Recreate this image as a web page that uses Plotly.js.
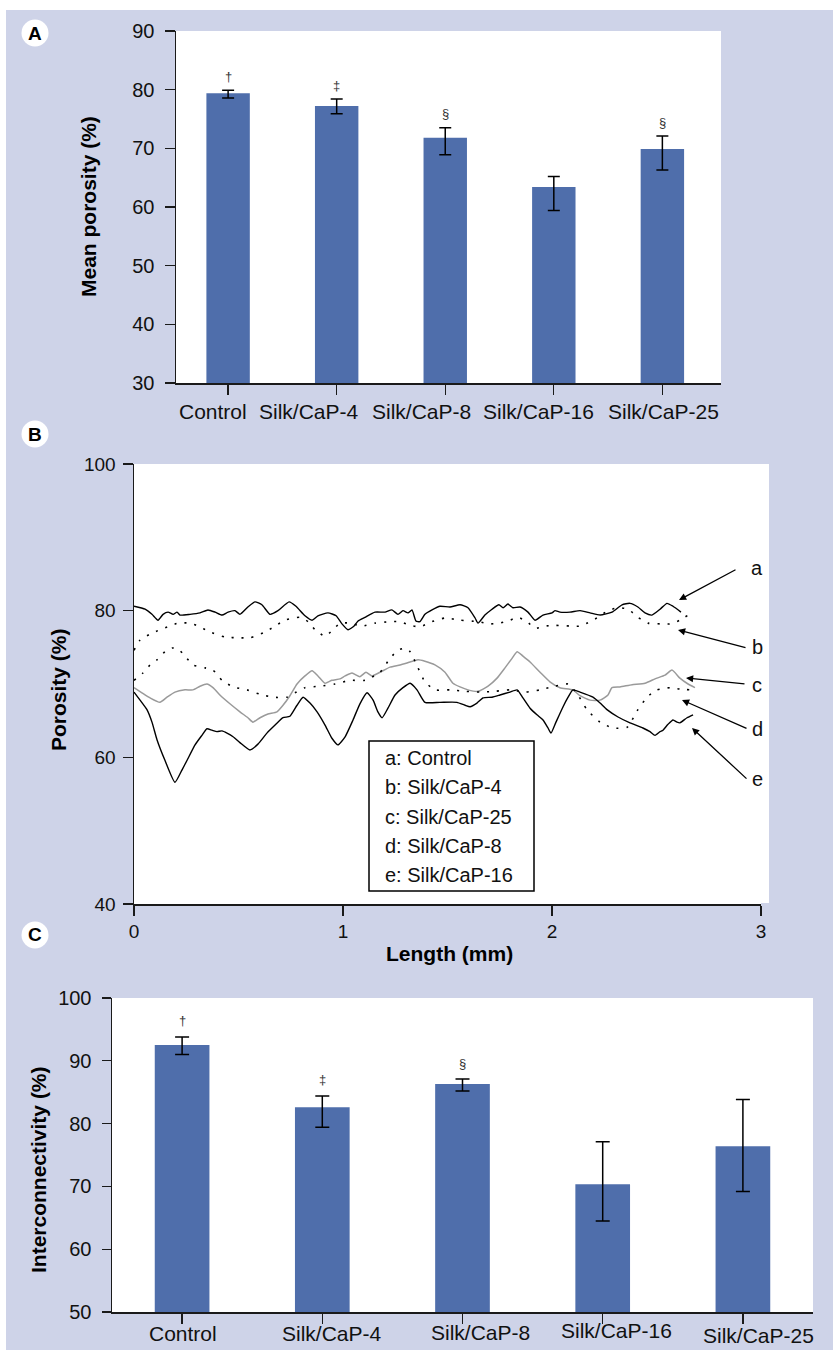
<!DOCTYPE html>
<html><head><meta charset="utf-8">
<script src="https://cdn.plot.ly/plotly-3.0.1.min.js"></script>
<style>html,body{margin:0;padding:0;background:#fff}#chart{width:833px;height:1350px}</style>
</head><body><div id="chart"></div>
<script>
// ---------- DATA ----------
const categories = ['Control', 'Silk/CaP-4', 'Silk/CaP-8', 'Silk/CaP-16', 'Silk/CaP-25'];

// Panel A: mean porosity (%)
const porosityMean      = [79.4, 77.2, 71.8, 63.4, 69.9];
const porosityErrPlus   = [0.5, 1.2, 1.7, 1.8, 2.2];
const porosityErrMinus  = [0.8, 1.3, 2.9, 4.0, 3.6];
const porositySig       = ['†', '‡', '§', '', '§'];

// Panel C: interconnectivity (%)
const interMean      = [92.5, 82.6, 86.3, 70.35, 76.4];
const interErrPlus   = [1.3, 1.8, 0.8, 6.75, 7.45];
const interErrMinus  = [1.5, 3.2, 1.1, 5.85, 7.2];
const interSig       = ['†', '‡', '§', '', ''];

// Panel B: porosity profiles along length (mm)
const seriesLetters = ['a', 'b', 'c', 'd', 'e'];
const seriesNames   = ['Control', 'Silk/CaP-4', 'Silk/CaP-25', 'Silk/CaP-8', 'Silk/CaP-16'];

const lengthA = [0,0.053,0.086,0.115,0.139,0.163,0.187,0.206,0.22,0.268,0.316,0.354,0.388,0.421,0.45,0.483,0.507,0.545,0.579,0.612,0.651,0.689,0.742,0.775,0.818,0.852,0.88,0.928,0.967,0.995,1.024,1.053,1.072,1.105,1.153,1.201,1.234,1.263,1.287,1.311,1.33,1.349,1.368,1.392,1.426,1.464,1.512,1.56,1.598,1.632,1.646,1.679,1.713,1.746,1.766,1.789,1.813,1.847,1.885,1.919,1.957,2.0,2.014,2.038,2.086,2.134,2.182,2.23,2.287,2.335,2.373,2.411,2.445,2.478,2.517,2.55,2.579,2.617];
const porosityA = [80.6,80.2,79.5,78.7,79.5,79.8,79.5,79.8,79.4,79.5,79.7,80.1,79.8,79.4,79.8,80.0,79.5,80.5,81.2,80.8,79.5,80.0,81.2,80.6,79.3,78.7,79.3,79.7,79.3,78.2,77.4,77.9,78.6,79.1,79.8,79.8,80.1,79.5,80.0,79.7,80.1,78.6,78.5,79.5,80.1,80.6,80.5,80.8,80.4,79.0,78.3,79.4,80.2,80.8,80.4,80.9,80.4,80.5,79.8,78.7,79.4,79.7,80.0,79.8,79.8,80.0,79.7,79.4,79.8,80.8,81.0,80.5,79.7,79.4,80.2,81.0,80.6,79.8];

const lengthB = [0,0.029,0.077,0.124,0.172,0.211,0.268,0.316,0.354,0.435,0.507,0.555,0.627,0.675,0.722,0.794,0.833,0.866,0.914,0.952,0.986,1.033,1.091,1.153,1.225,1.273,1.321,1.368,1.426,1.488,1.56,1.646,1.703,1.751,1.799,1.837,1.88,1.919,1.967,2.014,2.086,2.134,2.182,2.22,2.268,2.316,2.364,2.411,2.459,2.517,2.565,2.612,2.651];
const porosityB = [74.6,76.0,76.8,77.4,77.9,78.3,78.3,77.8,77.2,76.4,76.3,76.3,77.1,77.9,78.7,79.1,78.5,77.4,76.5,77.4,78.3,78.3,77.9,78.3,78.5,78.5,78.0,77.8,78.5,79.0,78.7,78.5,78.2,78.3,78.7,79.1,78.5,77.6,77.9,78.0,77.9,77.9,78.5,79.1,80.0,80.4,80.2,79.1,78.3,78.2,78.2,78.7,79.4];

const lengthC = [0,0.038,0.077,0.124,0.158,0.196,0.244,0.282,0.316,0.349,0.378,0.411,0.459,0.507,0.545,0.569,0.603,0.641,0.684,0.713,0.746,0.78,0.818,0.852,0.88,0.914,0.947,0.986,1.01,1.043,1.081,1.11,1.139,1.177,1.225,1.273,1.321,1.359,1.392,1.44,1.488,1.526,1.56,1.598,1.646,1.694,1.737,1.775,1.809,1.833,1.861,1.895,1.943,1.99,2.038,2.1,2.134,2.182,2.23,2.268,2.287,2.325,2.383,2.445,2.493,2.541,2.574,2.612,2.651,2.684];
const porosityC = [69.5,68.8,68.1,67.5,68.2,68.9,69.2,69.2,69.7,70.0,69.5,68.5,67.3,66.2,65.4,64.8,65.4,65.9,66.2,67.1,68.4,70.0,71.1,71.8,71.1,70.1,70.5,70.7,71.1,71.5,71.0,71.6,71.1,71.6,72.3,72.6,73.0,73.3,73.1,72.6,71.6,70.1,69.6,69.2,69.0,69.7,70.8,72.2,73.5,74.4,73.8,73.0,71.6,70.3,69.5,69.2,68.4,67.8,67.8,68.5,69.5,69.6,69.9,70.1,70.7,71.2,71.9,70.8,70.0,69.5];

const lengthD = [0,0.043,0.077,0.11,0.148,0.182,0.211,0.244,0.282,0.34,0.378,0.421,0.474,0.541,0.603,0.665,0.732,0.77,0.818,0.89,0.962,1.033,1.105,1.177,1.225,1.263,1.297,1.321,1.359,1.392,1.44,1.512,1.584,1.656,1.727,1.799,1.871,1.943,2.014,2.077,2.124,2.167,2.23,2.292,2.359,2.411,2.455,2.502,2.565,2.612,2.66];
const porosityD = [70.5,71.5,72.6,73.3,74.4,74.9,74.8,73.8,72.6,72.2,71.9,70.5,69.6,69.2,68.6,68.2,68.2,68.8,69.5,69.7,70.0,70.5,70.5,71.6,73.5,74.6,74.9,74.4,72.2,70.3,69.2,69.2,69.0,68.9,69.0,69.2,68.9,69.2,69.7,70.0,68.5,66.5,64.8,64.0,64.1,66.5,68.2,69.2,69.5,69.3,69.2];

const lengthE = [0,0.029,0.062,0.086,0.11,0.148,0.196,0.23,0.254,0.292,0.325,0.349,0.373,0.397,0.421,0.445,0.474,0.507,0.555,0.593,0.636,0.675,0.713,0.746,0.78,0.809,0.842,0.876,0.914,0.947,0.976,1.01,1.048,1.081,1.115,1.144,1.167,1.187,1.215,1.249,1.287,1.321,1.354,1.392,1.464,1.545,1.584,1.608,1.641,1.67,1.713,1.751,1.799,1.833,1.861,1.895,1.928,1.957,1.981,1.995,2.019,2.053,2.077,2.1,2.134,2.196,2.23,2.263,2.316,2.373,2.435,2.469,2.493,2.517,2.531,2.555,2.579,2.598,2.612,2.646,2.675];
const porosityE = [68.9,67.8,66.5,64.8,62.4,59.6,56.6,58.3,59.6,61.7,63.0,63.9,63.7,63.5,63.6,63.3,62.8,62.0,61.0,61.8,63.3,64.4,65.4,65.6,67.1,68.2,67.4,66.2,64.4,62.6,61.7,62.8,65.1,67.3,68.8,67.8,66.2,65.4,66.7,68.5,69.5,70.1,69.2,67.5,67.5,67.5,67.1,66.9,67.4,68.1,68.2,68.5,68.9,69.2,68.1,66.7,65.8,65.1,64.0,63.3,64.8,66.9,68.2,69.2,68.9,68.2,67.4,66.5,65.5,64.7,64.0,63.5,63.0,63.5,63.7,64.5,65.1,64.8,64.7,65.4,65.8];

const xTicksB = [0, 1, 2, 3];
const yTicksB = [40, 60, 80, 100];

// ---------- STYLE / LAYOUT ----------
const FONT = 'Liberation Sans, Arial, Helvetica, sans-serif';
const W = 833, H = 1350;
const fx = p => p / W, fy = p => 1 - p / H;
const BAR = '#4F6EAB';
const BG = '#CED3E8';

// category label placements (pixel centres, as in the original figure)
const labelPosA = [[213, 411], [309, 411], [421, 411], [538, 411], [663, 411]];
const labelPosC = [[183, 1333], [332, 1333], [480, 1332], [616, 1330], [758, 1335]];

function ax(extra) {
  return Object.assign({
    showline: true, linecolor: '#1a1a1a', linewidth: 1.5,
    ticks: 'outside', tickcolor: '#1a1a1a', tickwidth: 1.3, ticklen: 10,
    showgrid: false, zeroline: false, fixedrange: true,
    tickfont: {family: FONT, size: 20, color: '#111'}
  }, extra);
}

const traces = [];
traces.push({
  type: 'bar', x: categories, y: porosityMean, width: 0.4,
  marker: {color: BAR},
  error_y: {type: 'data', symmetric: false, array: porosityErrPlus, arrayminus: porosityErrMinus,
            color: '#000', thickness: 1.5, width: 6},
  xaxis: 'x', yaxis: 'y', hoverinfo: 'none'
});
traces.push({
  type: 'bar', x: categories, y: interMean, width: 0.39,
  marker: {color: BAR},
  error_y: {type: 'data', symmetric: false, array: interErrPlus, arrayminus: interErrMinus,
            color: '#000', thickness: 1.5, width: 7},
  xaxis: 'x3', yaxis: 'y3', hoverinfo: 'none'
});

const profiles = [
  {x: lengthA, y: porosityA, line: {color: '#000', width: 1.4}},
  {x: lengthB, y: porosityB, line: {color: '#000', width: 1.6, dash: '2px,8px'}},
  {x: lengthC, y: porosityC, line: {color: '#9a9a9a', width: 1.5}},
  {x: lengthD, y: porosityD, line: {color: '#000', width: 1.6, dash: '2px,8px'}},
  {x: lengthE, y: porosityE, line: {color: '#000', width: 1.4}}
];
profiles.forEach((p, i) => {
  p.line.shape = 'spline'; p.line.smoothing = 0.5;
  traces.push({type: 'scatter', mode: 'lines', x: p.x, y: p.y, line: p.line,
               name: seriesNames[i], xaxis: 'x2', yaxis: 'y2', hoverinfo: 'none'});
});

const annotations = [];
const shapes = [];
const T = (o) => Object.assign({xref: 'paper', yref: 'paper', showarrow: false, xanchor: 'center', yanchor: 'middle'}, o);

// white margins above/left of the lavender panel
shapes.push({type: 'rect', xref: 'paper', yref: 'paper', x0: 0, x1: 1, y0: fy(10), y1: 1, fillcolor: '#fff', line: {width: 0}, layer: 'below'});
shapes.push({type: 'rect', xref: 'paper', yref: 'paper', x0: 0, x1: fx(6), y0: 0, y1: 1, fillcolor: '#fff', line: {width: 0}, layer: 'below'});
// panel B white area extends slightly past the axis end
shapes.push({type: 'rect', xref: 'paper', yref: 'paper', x0: fx(760), x1: fx(769), y0: fy(903), y1: fy(464), fillcolor: '#fff', line: {width: 0}, layer: 'below'});

// category labels
const catFont = {family: FONT, size: 21, color: '#111'};
categories.forEach((c, i) => {
  annotations.push(T({x: fx(labelPosA[i][0]), y: fy(labelPosA[i][1]), text: c, font: catFont}));
  annotations.push(T({x: fx(labelPosC[i][0]), y: fy(labelPosC[i][1]), text: c, font: catFont}));
});

// significance markers
categories.forEach((c, i) => {
  if (porositySig[i]) annotations.push({xref: 'x', yref: 'y', x: c, y: porosityMean[i] + porosityErrPlus[i],
    text: porositySig[i], showarrow: false, xanchor: 'center', yanchor: 'middle', yshift: 14, font: {family: FONT, size: 13, color: '#333'}});
  if (interSig[i]) annotations.push({xref: 'x3', yref: 'y3', x: c, y: interMean[i] + interErrPlus[i],
    text: interSig[i], showarrow: false, xanchor: 'center', yanchor: 'middle', yshift: 16, font: {family: FONT, size: 13, color: '#333'}});
});

// axis titles
const titleFont = {family: FONT, size: 21, color: '#000'};
annotations.push(T({x: fx(89), y: fy(207), text: '<b>Mean porosity (%)</b>', textangle: -90, font: titleFont}));
annotations.push(T({x: fx(58), y: fy(690), text: '<b>Porosity (%)</b>', textangle: -90, font: titleFont}));
annotations.push(T({x: fx(449), y: fy(953), text: '<b>Length (mm)</b>', font: titleFont}));
annotations.push(T({x: fx(38), y: fy(1170), text: '<b>Interconnectivity (%)</b>', textangle: -90, font: titleFont}));

// panel letters
[['A', 33], ['B', 434], ['C', 935]].forEach(([t, y]) => {
  shapes.push({type: 'circle', xref: 'paper', yref: 'paper', x0: fx(35 - 13.5), x1: fx(35 + 13.5), y0: fy(y + 13.5), y1: fy(y - 13.5), fillcolor: '#fff', line: {width: 0}});
  annotations.push(T({x: fx(35), y: fy(y), text: '<b>' + t + '</b>', font: {family: FONT, size: 19, color: '#000'}}));
});

// legend box in panel B
shapes.push({type: 'rect', xref: 'paper', yref: 'paper', x0: fx(369), x1: fx(534), y0: fy(891), y1: fy(741), fillcolor: '#fff', line: {color: '#000', width: 1.5}});
seriesNames.forEach((n, i) => {
  annotations.push(T({x: fx(383), y: fy(758 + 29.25 * i), xanchor: 'left',
    text: seriesLetters[i] + ': ' + n, font: {family: FONT, size: 20, color: '#111'}}));
});

// arrows with letters
const arrowSpec = [
  {head: [679, 600], tail: [737, 569], lab: [757, 568]},
  {head: [678, 630], tail: [747, 648], lab: [757, 647]},
  {head: [686, 678], tail: [746, 684], lab: [757, 685]},
  {head: [682, 700], tail: [748, 729], lab: [757, 729]},
  {head: [692, 728], tail: [748, 780], lab: [757, 779]}
];
arrowSpec.forEach((a, i) => {
  annotations.push({xref: 'paper', yref: 'paper', x: fx(a.head[0]), y: fy(a.head[1]),
    ax: a.tail[0] - a.head[0], ay: a.tail[1] - a.head[1], axref: 'pixel', ayref: 'pixel',
    text: '', showarrow: true, arrowhead: 2, arrowsize: 1.1, arrowwidth: 1.3, arrowcolor: '#000', standoff: 0, startstandoff: 0});
  annotations.push(T({x: fx(a.lab[0]), y: fy(a.lab[1]), text: seriesLetters[i],
    font: {family: FONT, size: 20, color: '#111'}}));
});

const layout = {
  width: W, height: H, margin: {l: 0, r: 0, t: 0, b: 0},
  paper_bgcolor: BG, plot_bgcolor: '#fff', showlegend: false,
  font: {family: FONT, color: '#000'},
  xaxis: ax({domain: [fx(176), fx(721)], range: [-0.48, 4.54], type: 'category', anchor: 'y', showticklabels: false}),
  yaxis: ax({domain: [fy(383), fy(31)], range: [30, 90], dtick: 10, anchor: 'x', ticklabelstandoff: 6}),
  xaxis2: ax({domain: [fx(134), fx(761)], range: [0, 3], tickvals: xTicksB, anchor: 'y2', tickfont: {family: FONT, size: 19, color: '#111'}}),
  yaxis2: ax({domain: [fy(904), fy(464)], range: [40, 100], tickvals: yTicksB, anchor: 'x2', ticklabelstandoff: 3, tickfont: {family: FONT, size: 19, color: '#111'}}),
  xaxis3: ax({domain: [fx(112), fx(813)], range: [-0.5, 4.5], type: 'category', anchor: 'y3', showticklabels: false}),
  yaxis3: ax({domain: [fy(1312), fy(998)], range: [50, 100], dtick: 10, anchor: 'x3', ticklen: 9, ticklabelstandoff: 6}),
  annotations: annotations, shapes: shapes
};

Plotly.newPlot('chart', traces, layout, {staticPlot: true, displayModeBar: false});
</script>
</body></html>
